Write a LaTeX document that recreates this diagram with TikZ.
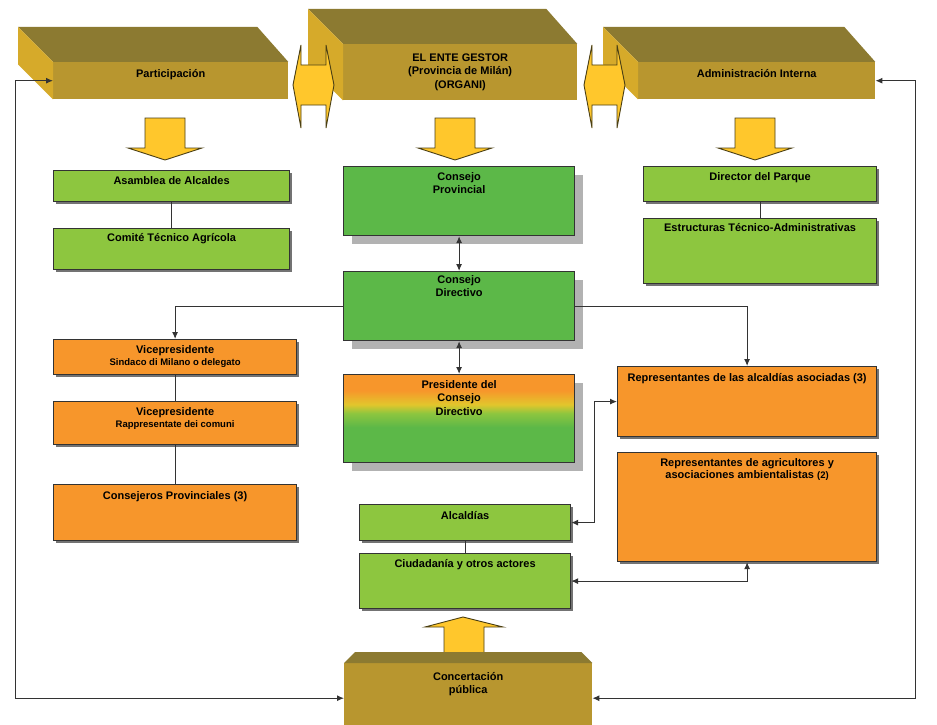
\documentclass[tikz,border=0pt]{standalone}
\usepackage{fontspec}
\setmainfont{Liberation Sans}
\usetikzlibrary{positioning, shadows, arrows.meta}

\definecolor{verdeclaro}{HTML}{8DC63F}
\definecolor{verdeoscuro}{HTML}{5CB848}
\definecolor{naranja}{HTML}{F7962B}
\definecolor{amarillo}{HTML}{FFC72C}
\definecolor{amarillopres}{HTML}{E2C62C}
\definecolor{orofrente}{HTML}{B8962F}
\definecolor{orotapa}{HTML}{8C7A31}
\definecolor{orolado}{HTML}{D6AA2A}
\definecolor{bordeflecha}{HTML}{4A3F14}

\pgfdeclareverticalshading{presidente}{100bp}{color(0bp)=(verdeoscuro); color(45bp)=(verdeoscuro); color(53bp)=(verdeclaro); color(58bp)=(amarillopres); color(66bp)=(naranja); color(100bp)=(naranja)}

\newcommand{\chico}{\fontsize{9.5}{11}\selectfont}

\tikzset{
  caja/.style={draw=black!80, line width=1.2pt, inner sep=0pt, anchor=north west},
  sombrita/.style={drop shadow={shadow xshift=2pt, shadow yshift=-2pt, fill=black!55, opacity=1}},
  sombra/.style={drop shadow={shadow xshift=8pt, shadow yshift=-8pt, fill=black!30, opacity=1}},
  verde/.style={caja, fill=verdeclaro, sombrita},
  consejo/.style={caja, fill=verdeoscuro, sombra},
  naranjo/.style={caja, fill=naranja, sombrita},
  frente/.style={fill=orofrente, inner sep=0pt, anchor=north west},
  texto/.style={font=\bfseries\fontsize{11}{13.5}\selectfont, text=black, align=center, inner sep=0pt},
  conector/.style={draw=black!80, line width=1pt},
  punta/.tip={Latex[length=7pt, width=6pt]},
  bloque/.style={fill=amarillo, draw=bordeflecha, line width=0.9pt},
}

\begin{document}
\begin{tikzpicture}[x=1pt, y=-1pt]
    \fill[white] (0,0) rectangle (937,725);
    \useasboundingbox (0,0) rectangle (937,725);

    % cajas de arriba
    \node[frente, minimum width=235pt, minimum height=37pt] (part) at (53,62) {};
    \node[frente, minimum width=234pt, minimum height=56pt] (ente) at (343,44) {};
    \node[frente, minimum width=237pt, minimum height=37pt] (admin) at (638,62) {};
    \foreach \n in {part, ente, admin}
    {
        \fill[orotapa] (\n.north west) -- ++(-35,-35) -- ([shift={(-31,-35)}]\n.north east) -- (\n.north east) -- cycle;
        \fill[orolado] (\n.north west) -- ++(-35,-35) -- ([shift={(-35,-35)}]\n.south west) -- (\n.south west) -- cycle;
    }
    \node[texto, below=7pt of part.north] (tpart) {Participación};
    \node[texto] (tente) at (ente.center) {EL ENTE GESTOR\\(Provincia de Milán)\\(ORGANI)};
    \node[texto, below=7pt of admin.north] (tadmin) {Administración Interna};

    % flechas amarillas
    \foreach \ax in {293, 584}
        \draw[bloque] (\ax,85) -- (\ax+8,45) -- (\ax+8,65) -- (\ax+33,65) -- (\ax+33,45) -- (\ax+41,85)
            -- (\ax+33,128) -- (\ax+33,105) -- (\ax+8,105) -- (\ax+8,128) -- cycle;
    \foreach \cx in {165, 455, 755}
        \draw[bloque] (\cx-20,118) -- (\cx+20,118) -- (\cx+20,148) -- (\cx+37,148) -- (\cx,160)
            -- (\cx-37,148) -- (\cx-20,148) -- cycle;
    \draw[bloque] (444,658) -- (444,627) -- (425,627) -- (463,617) -- (503,627) -- (484,627) -- (484,658) -- cycle;

    % concertacion
    \node[frente, minimum width=248pt, minimum height=70pt] (conc) at (344,663) {};
    \fill[orotapa] (conc.north west) -- ++(11,-11) -- ([shift={(-11,-11)}]conc.north east) -- (conc.north east) -- cycle;
    \node[texto, below=9pt of conc.north] (tconc) {Concertación\\pública};

    % columna izquierda
    \node[verde, minimum width=236pt, minimum height=31pt] (asamblea) at (53,170) {};
    \node[verde, minimum width=236pt, minimum height=41pt] (comite) at (53,228) {};
    \node[naranjo, minimum width=243pt, minimum height=35pt] (vice1) at (53,339) {};
    \node[naranjo, minimum width=243pt, minimum height=43pt] (vice2) at (53,401) {};
    \node[naranjo, minimum width=243pt, minimum height=56pt] (consejeros) at (53,484) {};
    \node[texto, below=6pt of asamblea.north] (tasamblea) {Asamblea de Alcaldes};
    \node[texto, below=5pt of comite.north] (tcomite) {Comité Técnico Agrícola};
    \node[texto, below=6pt of vice1.north] (tvice1) {Vicepresidente\\[-1.5pt]{\chico Sindaco di Milano o delegato}};
    \node[texto, below=6pt of vice2.north] (tvice2) {Vicepresidente\\[-1.5pt]{\chico Rappresentate dei comuni}};
    \node[texto, below=7pt of consejeros.north] (tconsejeros) {Consejeros Provinciales (3)};

    % columna central
    \node[consejo, minimum width=231pt, minimum height=69pt] (provincial) at (343,166) {};
    \node[consejo, minimum width=231pt, minimum height=69pt] (directivo) at (343,271) {};
    \node[caja, shading=presidente, sombra, minimum width=231pt, minimum height=88pt] (presidente) at (343,374) {};
    \node[verde, minimum width=211pt, minimum height=36pt] (alcaldias) at (359,504) {};
    \node[verde, minimum width=211pt, minimum height=55pt] (ciudadania) at (359,553) {};
    \node[texto, below=6pt of provincial.north] (tprovincial) {Consejo\\Provincial};
    \node[texto, below=4pt of directivo.north] (tdirectivo) {Consejo\\Directivo};
    \node[texto, below=6pt of presidente.north] (tpresidente) {Presidente del\\Consejo\\Directivo};
    \node[texto, below=7pt of alcaldias.north] (talcaldias) {Alcaldías};
    \node[texto, below=6pt of ciudadania.north] (tciudadania) {Ciudadanía y otros actores};

    % columna derecha
    \node[verde, minimum width=233pt, minimum height=35pt] (director) at (643,166) {};
    \node[verde, minimum width=233pt, minimum height=65pt] (estructuras) at (643,218) {};
    \node[naranjo, minimum width=259pt, minimum height=70pt] (repalc) at (617,366) {};
    \node[naranjo, minimum width=259pt, minimum height=109pt] (repagr) at (617,452) {};
    \node[texto, below=6pt of director.north] (tdirector) {Director del Parque};
    \node[texto, below=5pt of estructuras.north] (testructuras) {Estructuras Técnico-Administrativas};
    \node[texto, below=7pt of repalc.north] (trepalc) {Representantes de las alcaldías asociadas (3)};
    \node[texto, below=6pt of repagr.north] (trepagr) {Representantes de agricultores y\\[-1.5pt]asociaciones ambientalistas {\chico(2)}};

    % conectores
    \draw[conector] (asamblea.south) -- (comite.north);
    \draw[conector] (vice1.south) -- (vice2.north);
    \draw[conector] (vice2.south) -- (consejeros.north);
    \draw[conector] (director.south) -- (estructuras.north);
    \draw[conector] (alcaldias.south) -- (ciudadania.north);
    \draw[conector, punta-punta] (provincial.south) -- (directivo.north);
    \draw[conector, punta-punta] (directivo.south) -- (presidente.north);
    \draw[conector, -punta] (directivo.west) -| (vice1.north);
    \draw[conector, -punta] (directivo.east) -| (repalc.north);
    \draw[conector, punta-punta] (repalc.west) -- ++(-23,0) |- (alcaldias.east);
    \draw[conector, punta-punta] (ciudadania.east) -| (repagr.south);
    \draw[conector, punta-punta] (part.west) -- ++(-38,0) |- (conc.west);
    \draw[conector, punta-punta] (admin.east) -- ++(40,0) |- (conc.east);
\end{tikzpicture}
\end{document}
